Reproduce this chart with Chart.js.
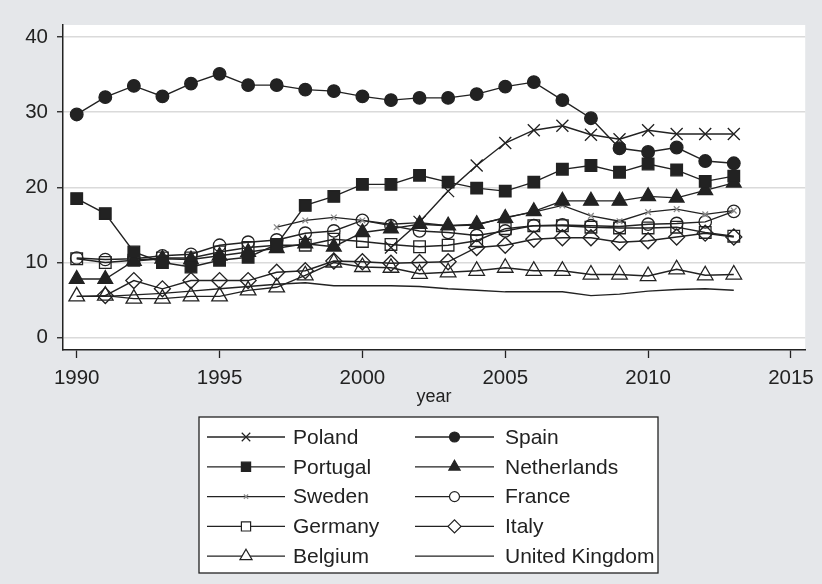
<!DOCTYPE html>
<html>
<head>
<meta charset="utf-8">
<script src="https://cdn.jsdelivr.net/npm/chart.js@4"></script>
<style>
  html, body { margin: 0; padding: 0; background: #e5e7ea; }
  canvas { display: block; }
</style>
</head>
<body>
<canvas id="lineChart" width="822" height="584"></canvas>
<script>
// years on the x axis
const years = [1990, 1991, 1992, 1993, 1994, 1995, 1996, 1997, 1998, 1999, 2000, 2001,
               2002, 2003, 2004, 2005, 2006, 2007, 2008, 2009, 2010, 2011, 2012, 2013];
const xTicks = [1990, 1995, 2000, 2005, 2010, 2015];
const yTicks = [0, 10, 20, 30, 40];

// series values (null = no data)
const poland = [null, null, null, null, null, null, null, null, null, null, null, 12.0,
                15.4, 19.5, 22.9, 25.9, 27.6, 28.2, 27.0, 26.4, 27.6, 27.1, 27.1, 27.1];
const spain = [29.7, 32.0, 33.5, 32.1, 33.8, 35.1, 33.6, 33.6, 33.0, 32.8, 32.1, 31.6,
               31.9, 31.9, 32.4, 33.4, 34.0, 31.6, 29.2, 25.2, 24.7, 25.3, 23.5, 23.2];
const portugal = [18.5, 16.5, 11.4, 10.0, 9.4, 10.3, 10.7, 12.4, 17.6, 18.8, 20.4, 20.4,
                  21.6, 20.7, 19.9, 19.5, 20.7, 22.4, 22.9, 22.0, 23.1, 22.3, 20.8, 21.5];
const netherlands = [7.8, 7.8, 10.2, 10.5, 10.4, 10.9, 11.4, 11.9, 12.5, 12.1, 14.0, 14.5,
                     15.1, 14.9, 15.1, 15.9, 16.8, 18.2, 18.2, 18.2, 18.8, 18.6, 19.6, 20.6];
const sweden = [null, null, null, null, null, null, null, 14.7, 15.6, 16.0, 15.6, 15.1,
                15.3, 14.9, 15.0, 16.0, 16.7, 17.6, 16.2, 15.5, 16.7, 17.1, 16.4, 16.9];
const france = [10.6, 10.4, 10.5, 10.9, 11.1, 12.3, 12.7, 13.0, 13.9, 14.2, 15.6, 14.9,
                14.2, 14.0, 13.6, 14.2, 14.9, 15.0, 14.9, 14.8, 15.1, 15.2, 15.4, 16.8];
const germany = [10.5, 10.0, 10.3, 10.6, 10.6, 11.4, 12.0, 12.3, 12.3, 13.1, 12.8, 12.4,
                 12.1, 12.3, 12.9, 14.5, 14.9, 14.9, 14.7, 14.6, 14.6, 14.7, 14.0, 13.5];
const italy = [null, 5.6, 7.6, 6.5, 7.6, 7.6, 7.6, 8.7, 8.9, 10.2, 10.1, 9.9,
               10.0, 10.1, 12.0, 12.3, 13.1, 13.3, 13.3, 12.7, 12.9, 13.4, 13.9, 13.4];
const belgium = [5.5, 5.6, 5.2, 5.2, 5.5, 5.5, 6.3, 6.7, 8.3, 10.0, 9.4, 9.3,
                 8.5, 8.7, 8.9, 9.3, 8.9, 8.9, 8.4, 8.4, 8.2, 9.1, 8.3, 8.4];
const unitedKingdom = [5.5, 5.5, 5.7, 5.9, 6.2, 6.5, 6.8, 7.1, 7.3, 6.9, 6.9, 6.9,
                       6.8, 6.5, 6.3, 6.1, 6.1, 6.1, 5.6, 5.8, 6.2, 6.4, 6.5, 6.3];

const INK = '#222222';
const FONT = '"Liberation Sans", Arial, Helvetica, sans-serif';

function toPoints(arr) {
  return arr.map((v, i) => ({ x: years[i], y: v }));
}

// one line series with its marker look
function series(label, values, style, radius, filled, colour, legendRadius) {
  return {
    label: label,
    data: toPoints(values),
    borderColor: INK,
    borderWidth: 1.4,
    tension: 0,
    spanGaps: false,
    pointStyle: style,
    pointRadius: radius,
    pointBorderColor: colour || INK,
    pointBackgroundColor: filled ? INK : 'rgba(0,0,0,0)',
    pointBorderWidth: 1.3,
    legendRadius: legendRadius
  };
}

const datasets = [
  series('Poland', poland, 'crossRot', 8.5, false, INK, 6),
  series('Spain', spain, 'circle', 6.3, true, INK, 5),
  series('Portugal', portugal, 'rect', 8.2, true, INK, 6.5),
  series('Netherlands', netherlands, 'triangle', 8.5, true, INK, 6.5),
  series('Sweden', sweden, 'crossRot', 4, false, '#8a8a8a', 3),
  series('France', france, 'circle', 6.2, false, INK, 5),
  series('Germany', germany, 'rect', 8.2, false, INK, 6.5),
  series('Italy', italy, 'rectRot', 8, false, INK, 6.5),
  series('Belgium', belgium, 'triangle', 9, false, INK, 7),
  series('United Kingdom', unitedKingdom, false, 0, false, INK, 0)
];

// grey page, white plot region
const backgroundPlugin = {
  id: 'plotBackground',
  beforeDraw(chart) {
    const ctx = chart.ctx;
    const a = chart.chartArea;
    ctx.save();
    ctx.fillStyle = '#e5e7ea';
    ctx.fillRect(0, 0, chart.width, chart.height);
    ctx.fillStyle = '#ffffff';
    ctx.fillRect(a.left, a.top, a.right - a.left, a.bottom - a.top);
    ctx.restore();
  }
};

// legend box under the plot: line with marker in the middle, two columns
const legendPlugin = {
  id: 'boxLegend',
  afterDraw(chart) {
    const ctx = chart.ctx;
    const box = { x: 199, y: 417, w: 459, h: 156 };
    ctx.save();
    ctx.fillStyle = '#ffffff';
    ctx.fillRect(box.x, box.y, box.w, box.h);
    ctx.strokeStyle = INK;
    ctx.lineWidth = 1.3;
    ctx.strokeRect(box.x, box.y, box.w, box.h);

    const colLine = [[207, 285], [415, 494]];
    const colText = [293, 505];
    chart.data.datasets.forEach((ds, i) => {
      const col = i % 2;
      const row = Math.floor(i / 2);
      const y = 437 + row * 29.8;
      ctx.strokeStyle = INK;
      ctx.lineWidth = 1.3;
      ctx.beginPath();
      ctx.moveTo(colLine[col][0], y);
      ctx.lineTo(colLine[col][1], y);
      ctx.stroke();
      if (ds.pointStyle) {
        const mx = (colLine[col][0] + colLine[col][1]) / 2;
        const filled = ds.pointBackgroundColor === INK;
        ctx.fillStyle = filled ? INK : '#ffffff';
        ctx.strokeStyle = ds.pointBorderColor;
        ctx.lineWidth = 1.2;
        Chart.helpers.drawPoint(ctx, {
          pointStyle: ds.pointStyle,
          radius: ds.legendRadius,
          rotation: 0,
          borderWidth: 1.2
        }, mx, y);
      }
      ctx.fillStyle = INK;
      ctx.font = '21px ' + FONT;
      ctx.textBaseline = 'middle';
      ctx.textAlign = 'left';
      ctx.fillText(ds.label, colText[col], y + 1);
    });
    ctx.restore();
  }
};

const ctx = document.getElementById('lineChart').getContext('2d');
const lineChart = new Chart(ctx, {
  type: 'line',
  data: { datasets: datasets },
  plugins: [backgroundPlugin, legendPlugin],
  options: {
    responsive: false,
    animation: false,
    events: [],
    layout: { padding: { top: 25, right: 14, left: 0, bottom: 174 } },
    plugins: {
      legend: { display: false },
      tooltip: { enabled: false },
      title: { display: false }
    },
    scales: {
      x: {
        type: 'linear',
        min: 1989.52,
        max: 2015.5,
        afterBuildTicks: s => { s.ticks = xTicks.map(v => ({ value: v })); },
        afterFit: s => { s.height = 60; },
        ticks: {
          color: INK,
          font: { family: FONT, size: 20.5 },
          padding: 8,
          maxRotation: 0,
          callback: v => String(v)
        },
        grid: {
          drawOnChartArea: false,
          tickLength: 8,
          tickColor: INK,
          tickWidth: 1.3
        },
        border: { color: INK, width: 1.5 },
        title: {
          display: true,
          text: 'year',
          color: INK,
          font: { family: FONT, size: 18 },
          padding: { top: 0, bottom: 2 }
        }
      },
      y: {
        type: 'linear',
        min: -1.64,
        max: 41.6,
        afterBuildTicks: s => { s.ticks = yTicks.map(v => ({ value: v })); },
        afterFit: s => { s.width = 63; },
        ticks: {
          color: INK,
          font: { family: FONT, size: 20.5 },
          padding: 9
        },
        grid: {
          color: '#dadada',
          lineWidth: 1.5,
          tickLength: 6,
          tickColor: INK,
          tickWidth: 1.3
        },
        border: { color: INK, width: 1.5 }
      }
    }
  }
});
</script>
</body>
</html>
